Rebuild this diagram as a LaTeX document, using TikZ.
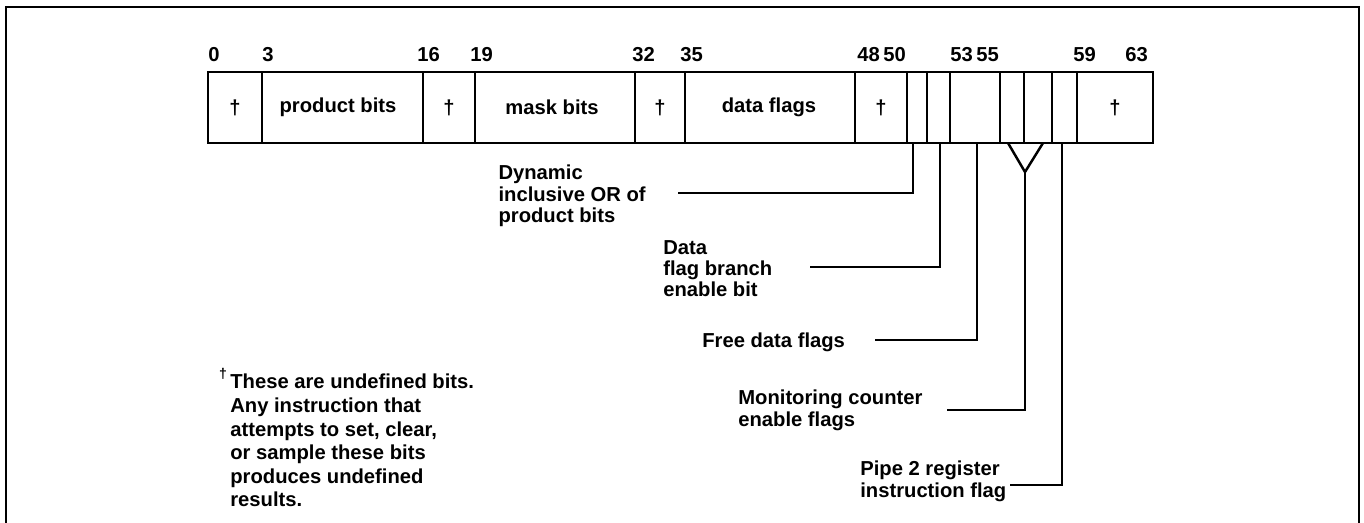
\documentclass[tikz,border=0pt]{standalone}
\usepackage{fontspec}
\setmainfont{Liberation Sans}
\usepackage{tikz}
\usetikzlibrary{positioning}

\begin{document}
\begin{tikzpicture}[font=\fontsize{11.5}{12}\selectfont\bfseries,
  reg/.style={line width=1.6pt},
  lead/.style={line width=1.4pt},
  num/.style={anchor=base west,inner sep=0pt},
  note/.style={anchor=north west,align=left,inner sep=0pt}]
\useasboundingbox (0,0) rectangle (27.28,-10.46);
% outer frame, open at the bottom
\draw[reg] (0.12,-10.46)--(0.12,-0.14)--(27.18,-0.14)--(27.18,-10.46);
% register
\draw[reg] (4.16,-1.44) rectangle (23.06,-2.86);
\draw[reg] (5.24,-1.44)--(5.24,-2.86);
\draw[reg] (8.46,-1.44)--(8.46,-2.86);
\draw[reg] (9.50,-1.44)--(9.50,-2.86);
\draw[reg] (12.70,-1.44)--(12.70,-2.86);
\draw[reg] (13.70,-1.44)--(13.70,-2.86);
\draw[reg] (17.10,-1.44)--(17.10,-2.86);
\draw[reg] (18.14,-1.44)--(18.14,-2.86);
\draw[reg] (18.54,-1.44)--(18.54,-2.86);
\draw[reg] (19.00,-1.44)--(19.00,-2.86);
\draw[reg] (20.00,-1.44)--(20.00,-2.86);
\draw[reg] (20.48,-1.44)--(20.48,-2.86);
\draw[reg] (21.04,-1.44)--(21.04,-2.86);
\draw[reg] (21.54,-1.44)--(21.54,-2.86);
% bit numbers
\node[num] (n0) at (4.16,-1.24) {0};
\node[num] (n3) at (5.24,-1.24) {3};
\node[num] (n16) at (8.34,-1.24) {16};
\node[num] (n19) at (9.40,-1.24) {19};
\node[num] (n32) at (12.64,-1.24) {32};
\node[num] (n35) at (13.60,-1.24) {35};
\node[num] (n48) at (17.14,-1.24) {48};
\node[num] (n50) at (17.66,-1.24) {50};
\node[num] (n53) at (19.00,-1.24) {53};
\node[num] (n55) at (19.52,-1.24) {55};
\node[num] (n59) at (21.46,-1.24) {59};
\node[num] (n63) at (22.50,-1.24) {63};
% field names
\node (f0) at (4.70,-2.15) {\textdagger};
\node (prod) at (6.76,-2.15) {product bits};
\node (f16) at (8.98,-2.15) {\textdagger};
\node (mask) at (11.04,-2.15) {mask bits};
\node (f32) at (13.20,-2.15) {\textdagger};
\node (flags) at (15.38,-2.15) {data flags};
\node (f48) at (17.62,-2.15) {\textdagger};
\node (f59) at (22.30,-2.15) {\textdagger};
% leader ends
\coordinate (c50) at (18.26,-2.86);
\coordinate (c51) at (18.80,-2.86);
\coordinate (c52) at (19.54,-2.86);
\coordinate (c56) at (20.16,-2.86);
\coordinate (c57) at (20.86,-2.86);
\coordinate (cy) at (20.50,-3.44);
\coordinate (c58) at (21.24,-2.86);
\coordinate (s50) at (13.56,-3.86);
\coordinate (s51) at (16.20,-5.34);
\coordinate (s52) at (17.50,-6.80);
\coordinate (s56) at (18.94,-8.20);
\coordinate (s58) at (20.20,-9.70);
% descriptions
\node[note,anchor=north east] (dyn) at (12.92,-3.30) {Dynamic\\inclusive OR of\\product bits};
\node[note] (dfb) at (13.26,-4.80) {Data\\flag branch\\enable bit};
\node[anchor=west,inner sep=0pt] (free) at (14.04,-6.84) {Free data flags};
\node[note] (mon) at (14.76,-7.80) {Monitoring counter\\enable flags};
\node[note] (pipe) at (17.20,-9.22) {Pipe 2 register\\instruction flag};
% leaders
\draw[lead] (s50) -| (c50);
\draw[lead] (s51) -| (c51);
\draw[lead] (s52) -| (c52);
\draw[lead] (s56) -| (cy);
\draw[lead] (c56) -- (cy) -- (c57);
\draw[lead] (s58) -| (c58);
% footnote
\node[font=\fontsize{8}{9}\selectfont\bfseries,inner sep=0pt] (dg) at (4.46,-7.48) {\textdagger};
\node[note,font=\fontsize{11.5}{13.4}\selectfont\bfseries] (fn) at (4.60,-7.48) {These are undefined bits.\\Any instruction that\\attempts to set, clear,\\or sample these bits\\produces undefined\\results.};
\end{tikzpicture}
\end{document}
